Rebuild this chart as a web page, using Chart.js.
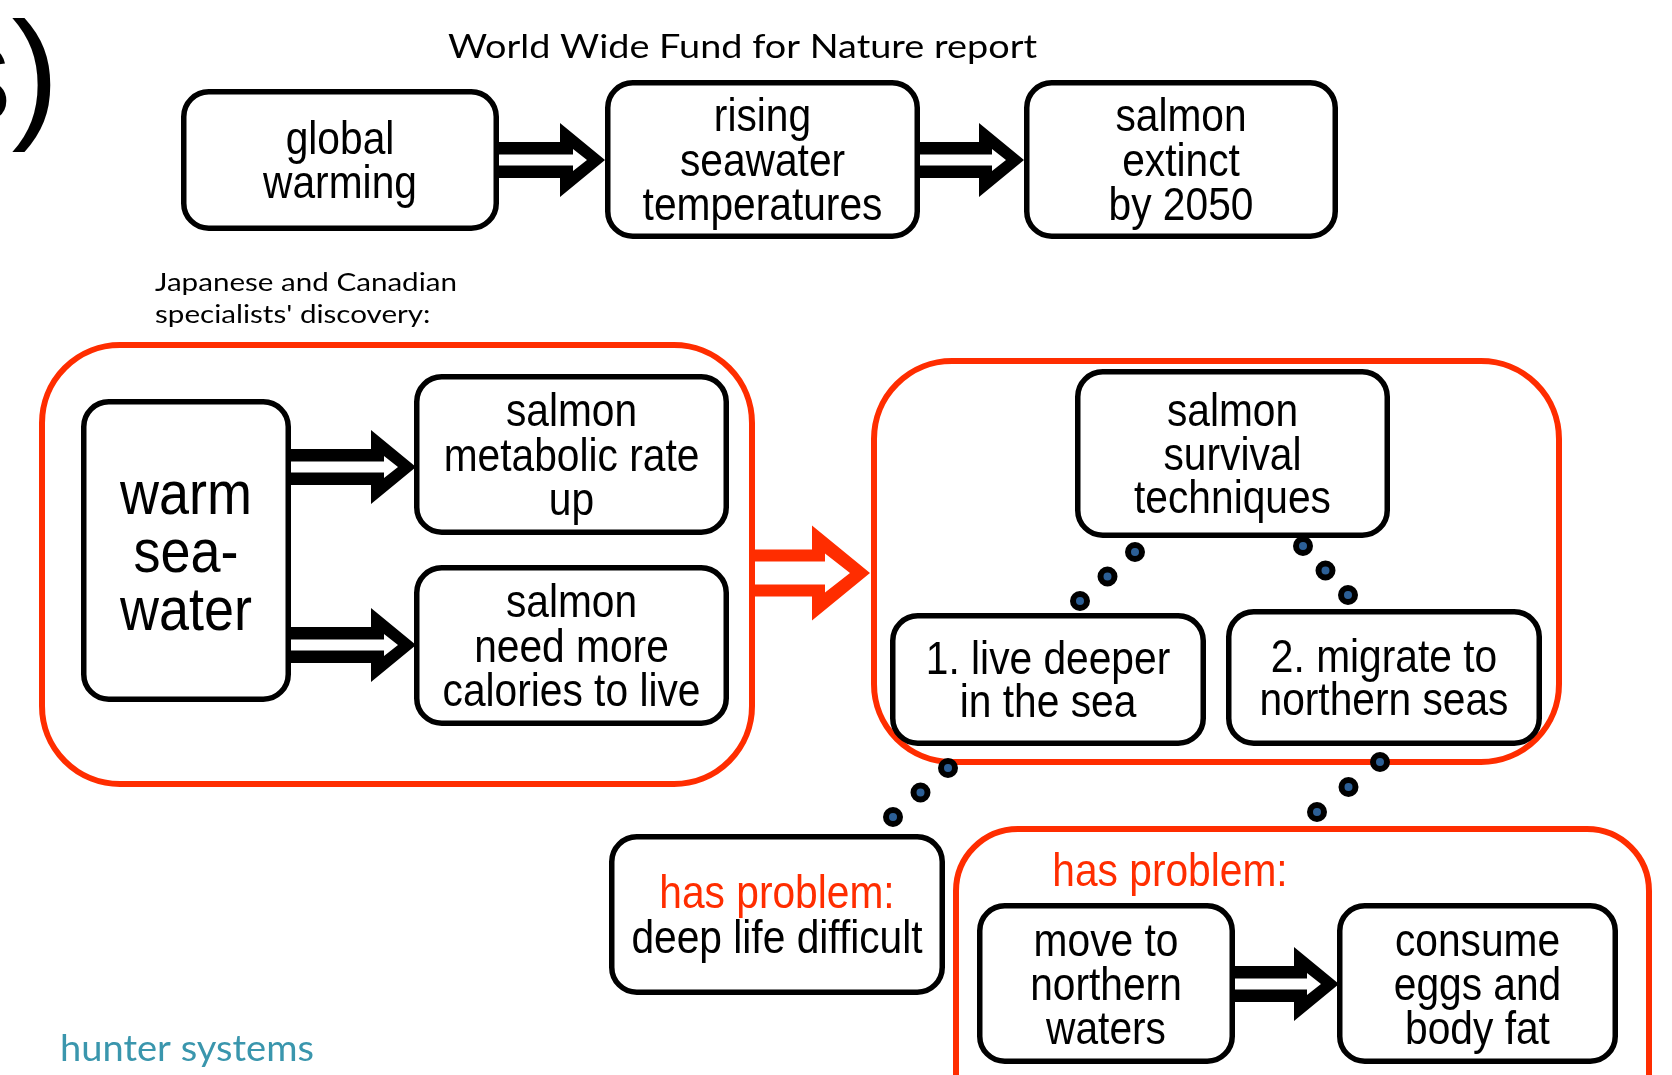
<!DOCTYPE html>
<html><head><meta charset="utf-8">
<script src="https://cdn.jsdelivr.net/npm/chart.js@4.4.1/dist/chart.umd.min.js"></script>
<style>html,body{margin:0;padding:0;background:#fff;overflow:hidden}canvas{display:block}</style>
</head><body>
<canvas id="c" width="1672" height="1075"></canvas>
<script>
// ---------- content (text values) ----------
const panelMark = 's)';
const titleText = 'World Wide Fund for Nature report';
const chainLabels = [['global', 'warming'], ['rising', 'seawater', 'temperatures'], ['salmon', 'extinct', 'by 2050']];
const discoveryNote = ['Japanese and Canadian', "specialists' discovery:"];
const discoveryLabels = [['warm', 'sea-', 'water'], ['salmon', 'metabolic rate', 'up'], ['salmon', 'need more', 'calories to live']];
const survivalLabels = [['salmon', 'survival', 'techniques'], ['1. live deeper', 'in the sea'], ['2. migrate to', 'northern seas']];
const problemHeading = 'has problem:';
const problemLabels = [['deep life difficult'], ['move to', 'northern', 'waters'], ['consume', 'eggs and', 'body fat']];
const footerText = 'hunter systems';

// ---------- layout (diagram geometry, in axis units) ----------
const RED = '#ff2d00';
const layout = {
  chainBoxes: [[181, 89, 499, 231], [605, 80, 920, 239], [1024, 80, 1338, 239]],
  discoveryBoxes: [[81, 399, 291, 702], [414, 374, 729, 535], [414, 565, 729, 726]],
  survivalBoxes: [[1075, 369, 1390, 538], [890, 613, 1206, 746], [1226, 609, 1542, 746]],
  problemBoxes: [[609, 834, 945, 995], [977, 903, 1235, 1064], [1337, 903, 1618, 1064]],
  frames: [[39, 342, 755, 787, 78], [871, 358, 1562, 765, 78], [953, 826, 1652, 1140, 62]],
  arrows: [[499, 605, 160, 'k'], [920, 1024, 160, 'k'], [291, 416, 467, 'k'], [291, 416, 645, 'k'], [755, 870, 573, 'r'], [1235, 1339, 984, 'k']],
  connectors: [[1135, 552, 1080, 601], [1303, 546, 1348, 595], [948, 768, 893, 817], [1380, 762, 1317, 812]]
};
const arrowStyles = {
  k: { color: '#000', shaft: 36, inner: 11, head: 74, headLen: 45, wBase: 32, wHalf: 11, wTip: 18 },
  r: { color: RED, shaft: 47, inner: 23, head: 95, headLen: 58, wBase: 45, wHalf: 19.5, wTip: 20 }
};

const dotPoints = layout.connectors.flatMap(([xa, ya, xb, yb]) =>
  [0, 0.5, 1].map(t => ({ x: xa + (xb - xa) * t, y: ya + (yb - ya) * t })));

function rr(ctx, x0, y0, x1, y1, r) {
  ctx.beginPath();
  ctx.moveTo(x0 + r, y0);
  ctx.lineTo(x1 - r, y0); ctx.arcTo(x1, y0, x1, y0 + r, r);
  ctx.lineTo(x1, y1 - r); ctx.arcTo(x1, y1, x1 - r, y1, r);
  ctx.lineTo(x0 + r, y1); ctx.arcTo(x0, y1, x0, y1 - r, r);
  ctx.lineTo(x0, y0 + r); ctx.arcTo(x0, y0, x0 + r, y0, r);
  ctx.closePath();
}

const diagram = {
  id: 'diagram',
  beforeDatasetsDraw(chart) {
    const ctx = chart.ctx, xs = chart.scales.x, ys = chart.scales.y;
    const X = v => xs.getPixelForValue(v), Y = v => ys.getPixelForValue(v);
    ctx.save();
    ctx.fillStyle = '#fff';
    ctx.fillRect(0, 0, chart.width, chart.height);

    // red frames
    layout.frames.forEach(([a, b, c, d, r]) => {
      const lw = 6;
      rr(ctx, X(a) + lw / 2, Y(b) + lw / 2, X(c) - lw / 2, Y(d) - lw / 2, r);
      ctx.lineWidth = lw; ctx.strokeStyle = RED; ctx.stroke();
    });

    // text helper (Helvetica-like, condensed)
    function lines(arr, cx, cy, font, lh, colors) {
      ctx.font = font + 'px "Liberation Sans", Arial, sans-serif';
      ctx.textAlign = 'center'; ctx.textBaseline = 'alphabetic';
      const n = arr.length;
      arr.forEach((t, i) => {
        const y = cy + (i - (n - 1) / 2) * lh + 0.35 * font;
        ctx.save(); ctx.translate(cx, y); ctx.scale(0.885, 1);
        ctx.fillStyle = colors ? colors[i] : '#000';
        ctx.fillText(t, 0, 0); ctx.restore();
      });
    }

    function box(bx, labels, font, lh, colors) {
      const [a, b, c, d] = bx; const lw = 5.5;
      rr(ctx, X(a) + lw / 2, Y(b) + lw / 2, X(c) - lw / 2, Y(d) - lw / 2, 25);
      ctx.fillStyle = '#fff'; ctx.fill();
      ctx.lineWidth = lw; ctx.strokeStyle = '#000'; ctx.stroke();
      lines(labels, (X(a) + X(c)) / 2, (Y(b) + Y(d)) / 2, font, lh, colors);
    }

    layout.chainBoxes.forEach((bx, i) => box(bx, chainLabels[i], 46, 44.5));
    layout.discoveryBoxes.forEach((bx, i) => i === 0 ? box(bx, discoveryLabels[i], 61, 58) : box(bx, discoveryLabels[i], 46, 44.5));
    layout.survivalBoxes.forEach((bx, i) => box(bx, survivalLabels[i], 46, 43.5));
    layout.problemBoxes.forEach((bx, i) => {
      if (i === 0) box(bx, [problemHeading].concat(problemLabels[0]), 46, 45, [RED, '#000']);
      else box(bx, problemLabels[i], 46, 44);
    });
    // heading inside lower frame
    lines([problemHeading], X(1170), Y(870), 46, 44, [RED]);

    // arrows
    layout.arrows.forEach(([x0, x1, yc, k]) => {
      const st = arrowStyles[k];
      const a = X(x0), tip = X(x1), y = Y(yc), hb = tip - st.headLen;
      ctx.fillStyle = st.color;
      ctx.beginPath();
      ctx.moveTo(a, y - st.shaft / 2); ctx.lineTo(hb, y - st.shaft / 2); ctx.lineTo(hb, y - st.head / 2);
      ctx.lineTo(tip, y); ctx.lineTo(hb, y + st.head / 2); ctx.lineTo(hb, y + st.shaft / 2); ctx.lineTo(a, y + st.shaft / 2);
      ctx.closePath(); ctx.fill();
      ctx.fillStyle = '#fff';
      const wb = tip - st.wBase;
      ctx.beginPath();
      ctx.moveTo(a, y - st.inner / 2); ctx.lineTo(wb, y - st.inner / 2); ctx.lineTo(wb, y - st.wHalf);
      ctx.lineTo(tip - st.wTip, y); ctx.lineTo(wb, y + st.wHalf); ctx.lineTo(wb, y + st.inner / 2); ctx.lineTo(a, y + st.inner / 2);
      ctx.closePath(); ctx.fill();
    });

    // Calibri-like texts, fitted to measured widths
    function fit(text, left, base, font, width, color, sxFixed) {
      ctx.font = font + 'px Lato, "Open Sans", sans-serif';
      ctx.textAlign = 'left'; ctx.textBaseline = 'alphabetic';
      const sx = sxFixed || width / ctx.measureText(text).width;
      ctx.save(); ctx.translate(X(left), Y(base)); ctx.scale(sx, 1);
      ctx.fillStyle = color; ctx.fillText(text, 0, 0); ctx.restore();
      return sx;
    }
    fit(titleText, 448, 58, 33, 589, '#000');
    const s1 = fit(discoveryNote[0], 155, 291, 25, 302, '#000');
    fit(discoveryNote[1], 155, 323, 25, 0, '#000', s1);
    fit(footerText, 60, 1061, 37, 254, '#3a96ad');

    // panel mark, partly cut off at the left edge
    ctx.font = '143px "Liberation Sans", Arial, sans-serif';
    ctx.textAlign = 'right'; ctx.fillStyle = '#000';
    ctx.fillText(panelMark, X(59), Y(122));
    ctx.restore();
  }
};

new Chart(document.getElementById('c'), {
  type: 'scatter',
  data: {
    datasets: [{
      data: dotPoints,
      pointRadius: 7, pointBorderWidth: 6,
      pointBackgroundColor: '#2c5f96', pointBorderColor: '#000',
      showLine: false, clip: false
    }]
  },
  options: {
    responsive: false, animation: false, events: [],
    layout: { padding: 0, autoPadding: false },
    plugins: { legend: { display: false }, tooltip: { enabled: false }, title: { display: false } },
    scales: {
      x: { type: 'linear', min: 0, max: 1672, display: false },
      y: { type: 'linear', min: 0, max: 1075, reverse: true, display: false }
    }
  },
  plugins: [diagram]
});
</script>
</body></html>
